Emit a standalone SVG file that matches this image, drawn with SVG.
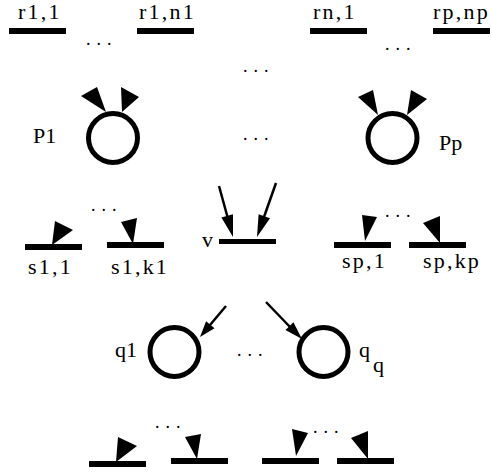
<svg xmlns="http://www.w3.org/2000/svg" width="492" height="475" viewBox="0 0 492 475">
<style>
  text { font-family: 'Liberation Serif', 'DejaVu Serif', serif; fill: #000; }
  .lbl { font-size: 22px; }
  .sp { letter-spacing: 2.2px; }
  .dots { font-size: 18px; letter-spacing: 6px; }
  .bar { fill: #000; }
  .place { fill: none; stroke: #000; stroke-width: 5; }
  .head { fill: #000; }
  .shaft { stroke: #000; stroke-width: 2.5; fill: none; }
</style>
<rect width="492" height="475" fill="#fff"/>

<!-- top transitions -->
<g id="r11"><rect class="bar" x="9" y="28" width="57" height="6"/><text class="lbl sp" x="18" y="19">r1,1</text></g>
<g id="r1n1"><rect class="bar" x="137" y="28" width="57" height="6"/><text class="lbl sp" x="139" y="19">r1,n1</text></g>
<g id="rn1"><rect class="bar" x="310" y="28" width="57" height="6"/><text class="lbl sp" x="313" y="19">rn,1</text></g>
<g id="rpnp"><rect class="bar" x="433" y="28" width="57" height="6"/><text class="lbl sp" x="433" y="19">rp,np</text></g>
<text class="dots" x="86" y="45">...</text>
<text class="dots" x="243" y="72">...</text>
<text class="dots" x="385" y="50">...</text>

<!-- places P -->
<g id="P1">
  <circle class="place" cx="113" cy="138" r="24.5"/>
  <polygon class="head" points="81,96 97,87 106,112"/>
  <polygon class="head" points="121,87 139,97 122,112"/>
  <text class="lbl" x="33" y="143">P1</text>
</g>
<g id="Pp">
  <circle class="place" cx="392.5" cy="138" r="24.5"/>
  <polygon class="head" points="358,97 373,90 378,115"/>
  <polygon class="head" points="411,90 427,99 407,115"/>
  <text class="lbl" x="439" y="150">Pp</text>
</g>
<text class="dots" x="243" y="140">...</text>

<!-- s transitions -->
<g id="s11"><rect class="bar" x="25" y="244" width="57" height="6"/><polygon class="head" points="55,221 73,230 52,245"/><text class="lbl sp" x="28" y="274">s1,1</text></g>
<g id="s1k1"><rect class="bar" x="107" y="242" width="57" height="6"/><polygon class="head" points="121,222 137,218 133,244"/><text class="lbl sp" x="111" y="274">s1,k1</text></g>
<text class="dots" x="91" y="211">...</text>
<g id="v">
  <rect class="bar" x="219" y="239" width="57" height="5"/>
  <text class="lbl" x="202" y="247">v</text>
</g>
<g id="sp1"><rect class="bar" x="334" y="242" width="57" height="6"/><polygon class="head" points="362,215 377,217 365,241"/><text class="lbl sp" x="342" y="268">sp,1</text></g>
<g id="spkp"><rect class="bar" x="409" y="242" width="57" height="6"/><polygon class="head" points="423,223 440,216 440,243"/><text class="lbl sp" x="423" y="268">sp,kp</text></g>
<text class="dots" x="385" y="217">...</text>

<!-- places q -->
<g id="q1">
  <circle class="place" cx="174.5" cy="352" r="24.5"/>
  <text class="lbl" x="115" y="357">q1</text>
</g>
<g id="qq">
  <circle class="place" cx="323.5" cy="352" r="24.5"/>
  <text class="lbl" x="359" y="357">q</text><text class="lbl" x="373" y="372">q</text>
</g>
<text class="dots" x="237" y="356">...</text>

<!-- bottom transitions -->
<g id="t1"><rect class="bar" x="89" y="461" width="57" height="6"/><polygon class="head" points="118,437 137,446 116,462"/></g>
<g id="t2"><rect class="bar" x="171" y="458" width="57" height="6"/><polygon class="head" points="185,437 201,434 197,459"/></g>
<g id="t3"><rect class="bar" x="262" y="458" width="57" height="6"/><polygon class="head" points="292,429 308,433 296,456"/></g>
<g id="t4"><rect class="bar" x="337" y="458" width="57" height="6"/><polygon class="head" points="351,438 368,431 368,459"/></g>
<text class="dots" x="155" y="428">...</text>
<text class="dots" x="313" y="433">...</text>

<!-- connectors -->
<g id="connectors">
  <line class="shaft" x1="219" y1="186" x2="227.5" y2="217"/>
  <polygon class="head" points="233,237 233,214.2 221.4,217.4"/>
  <line class="shaft" x1="276" y1="183" x2="264" y2="217"/>
  <polygon class="head" points="257,237 270,218.2 258.6,214.2"/>
  <line class="shaft" x1="226" y1="306" x2="210" y2="325"/>
  <polygon class="head" points="200,337 214.5,328.2 206.1,321.2"/>
  <line class="shaft" x1="266" y1="302" x2="290" y2="327"/>
  <polygon class="head" points="302,339 293.4,322.3 285.5,329.9"/>
</g>
</svg>
